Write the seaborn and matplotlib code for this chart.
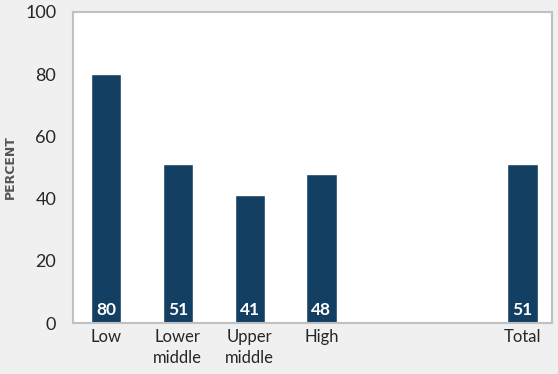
import matplotlib
matplotlib.use('Agg')
import matplotlib.pyplot as plt
import seaborn as sns
import pandas as pd

# --
# Data

categories = ["Low", "Lower\nmiddle", "Upper\nmiddle", "High", "Total"]
values = [80, 51, 41, 48, 51]
slots = [0, 1, 2, 3, 5.8]  # Total sits apart from the income groups

df = pd.DataFrame({"slot": slots, "value": values, "label": categories})

# --
# Plot

sns.set_style("white")
plt.rcParams['font.family'] = ['Lato', 'DejaVu Sans']

fig = plt.figure(figsize=(5.58, 3.74), dpi=100, facecolor="#f0f0f0")
ax = fig.add_axes([73 / 558, 1 - 323 / 374, (552 - 73) / 558, (323 - 12) / 374])
ax.set_facecolor("white")

sns.barplot(data=df, x="slot", y="value", native_scale=True, width=0.42,
            color="#133f63", saturation=1, ax=ax)

for x, v in zip(df.slot, df.value):
    ax.text(x, 1.5, f"{v}", ha="center", va="bottom", color="white",
            fontsize=12.5, fontweight="bold")

ax.set_xlim(-0.46, 6.21)
ax.set_ylim(0, 100)
ax.set_yticks(range(0, 101, 20))
ax.set_xticks(df.slot)
ax.set_xticklabels(df.label, fontsize=12, linespacing=1.45)
ax.tick_params(axis="y", labelsize=13, length=0, pad=12)
ax.tick_params(axis="x", length=0, pad=4)
ax.set_xlabel("")
ax.set_ylabel("PERCENT", fontsize=9, fontweight="bold", color="#555555",
              family="DejaVu Sans", labelpad=6)

for s in ax.spines.values():
    s.set_color("#c0c0c0")
    s.set_linewidth(1.5)

fig.savefig("out.png", dpi=100, facecolor=fig.get_facecolor())
